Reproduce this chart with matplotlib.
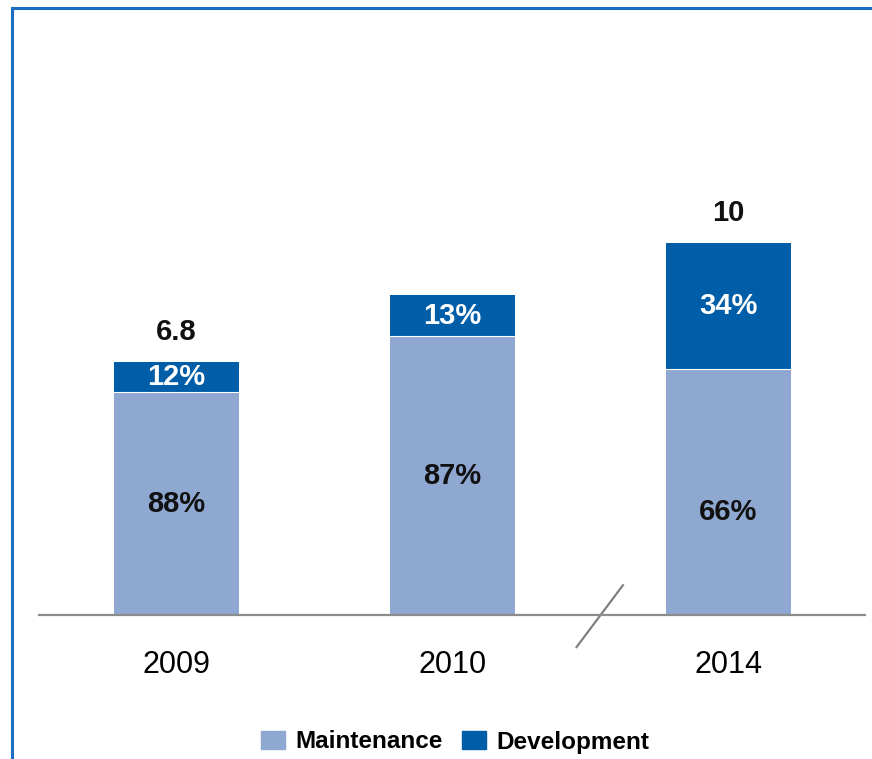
import matplotlib.pyplot as plt
from matplotlib.lines import Line2D
from matplotlib.patches import Patch

# Spend by year (totals) and split between maintenance / development
years = ["2009", "2010", "2014"]
totals = [6.8, 8.6, 10]
total_labels = ["6.8", "", "10"]
maintenance_pct = [88, 87, 66]
development_pct = [12, 13, 34]

maint_color = "#8EA8D2"
dev_color = "#005DA8"
frame_color = "#1B6EC2"

plt.rcParams["font.family"] = ["Liberation Sans", "DejaVu Sans"]

fig = plt.figure(figsize=(8.72, 7.59), dpi=100)
ax = fig.add_axes([0.0447, 0.1897, 0.9472, 0.6785])

x = list(range(len(years)))
maint = [t * m / 100 for t, m in zip(totals, maintenance_pct)]
dev = [t * d / 100 for t, d in zip(totals, development_pct)]

width = 0.453
ax.bar(x, maint, width, color=maint_color, label="Maintenance")
ax.bar(x, dev, width, bottom=maint, color=dev_color, label="Development")
# thin white seam between the two segments
for i in x:
    ax.plot([i - width / 2, i + width / 2], [maint[i], maint[i]], color="white",
            linewidth=0.8)

# label position inside the maintenance segment (fraction of its height)
maint_pos = [0.5, 0.5, 0.42]
for i in x:
    ax.text(i, maint[i] * maint_pos[i], f"{maintenance_pct[i]}%", ha="center", va="center",
            fontsize=21, fontweight="bold", color="#111111")
    ax.text(i, maint[i] + dev[i] / 2, f"{development_pct[i]}%", ha="center", va="center",
            fontsize=21, fontweight="bold", color="white")
    if total_labels[i]:
        ax.text(i, totals[i] + 0.8, total_labels[i], ha="center", va="center",
                fontsize=21, fontweight="bold", color="#111111")

ax.set_xlim(-0.498, 2.495)
ax.set_ylim(0, 13.83)
ax.set_xticks(x)
ax.set_xticklabels(years, fontsize=22)
ax.tick_params(axis="x", length=0, pad=25)
ax.set_yticks([])
for side in ["top", "right", "left"]:
    ax.spines[side].set_visible(False)
ax.spines["bottom"].set_color("#8C8C8C")
ax.spines["bottom"].set_linewidth(1.6)

# axis break between 2010 and 2014
bx = (x[1] + x[2]) / 2 + 0.034
ax.plot([bx - 0.084, bx + 0.084], [-0.86, 0.8], color="#808080", linewidth=1.6,
        clip_on=False)

# frame on left and top
fig.add_artist(Line2D([11.5 / 872, 11.5 / 872], [0, 1 - 8 / 759], color=frame_color,
                      linewidth=2.2))
fig.add_artist(Line2D([11.5 / 872, 1], [1 - 8 / 759, 1 - 8 / 759], color=frame_color,
                      linewidth=2.2))

handles = [Patch(color=maint_color, label="Maintenance"),
           Patch(color=dev_color, label="Development")]
fig.legend(handles=handles, loc="center", bbox_to_anchor=(455 / 872, 1 - 742 / 759),
           ncol=2, frameon=False, prop={"size": 17.5, "weight": "bold"},
           handlelength=1.0, handleheight=0.75, handletextpad=0.4, columnspacing=0.8)

fig.savefig("out.png", dpi=100)
